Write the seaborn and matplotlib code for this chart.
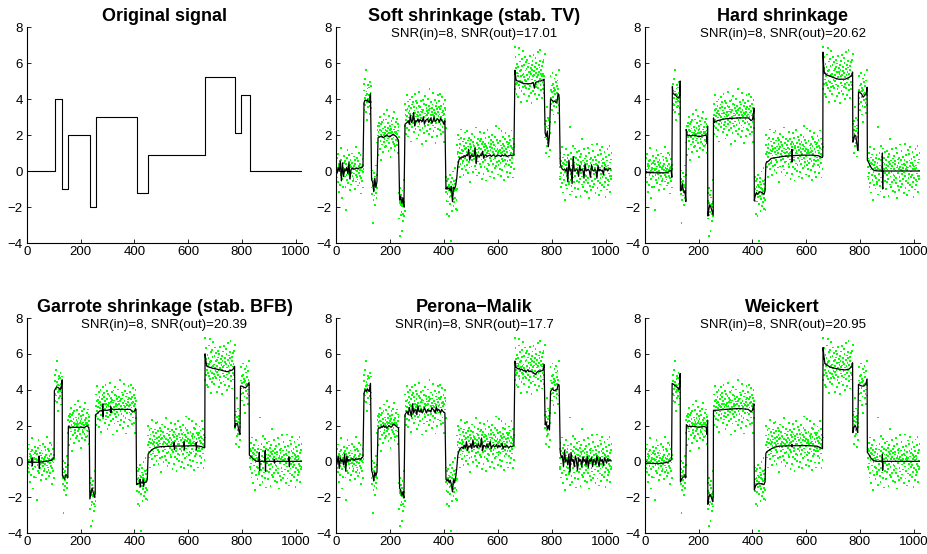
import numpy as np
import matplotlib
matplotlib.use("Agg")
import matplotlib.pyplot as plt
import seaborn as sns

# ---------------- data ----------------
# piecewise-constant original signal: segment starts (sample index) and levels
BREAKS = [0, 103, 132, 153, 234, 256, 408, 450, 663, 775, 796, 829, 1024]
LEVELS = [0, 4, -1, 2, -2, 3, -1.2, 0.9, 5.2, 2.1, 4.2, 0]

# additive noise per sample (in hundredths), estimated from the green dots
NOISE_HUNDREDTHS = [
    22, -48, 5, 71, -13, -36, 94, 8, -61, 27, -115, 41, -3, 17, -78, 55, 30, -24, 128, -9, 63, -44, 2, -152, 38, 19, -87, 11, -29, 46, 82, -6,
    -31, 57, 14, -90, -215, 6, 39, -21, 73, -52, 10, 118, -4, -66, 25, 48, -17, 88, -38, 1, -106, 33, 60, -12, 20, -75, 44, -8, 97, -27, 15, -56,
    9, -43, 81, 26, -14, 62, -99, 37, 4, -23, 135, -58, 18, -34, 70, -2, -47, 12, 56, -81, 29, -11, 102, -65, 40, 7, -28, 91, -125, 16, -39, 3,
    -54, 21, 68, -7, 35, -92, 13, 47, -26, 84, -61, 5, 112, -33, 19, 160, -70, 42, -15, 28, -118, 58, 0, -45, 76, 23, -9, 64, -37, 95, 11, -83,
    32, -16, 74, -49, 8, 55, -27, 103, -190, 38, 17, -62, 90, -5, 44, -36, 24, -88, 69, 12, -21, 131, -50, 6, 79, -42, 30, -110, 51, -3, 18, 66,
    -12, 48, -77, 26, 98, -34, 3, 59, -141, 22, 71, -9, -53, 36, 14, -96, 83, 1, -40, 117, -24, 45, -68, 10, 29, -4, 86, -59, 20, 138, -31, 7,
    41, -19, 65, -88, 13, -46, 104, 27, -6, 52, -124, 35, 9, -71, 80, -23, 17, 58, -37, 2, 93, -14, -49, 126, 31, -83, 15, 44, -62, 8, 72, -28,
    16, -57, 89, 4, -33, 61, -102, 25, 46, -11, 78, -64, 34, -160, 21, 107, -44, 12, 67, -26, -135, 53, 7, 92, -39, 18, -76, 30, 148, -52, 0, -21,
    -48, 73, 11, -95, 38, -17, 121, -62, 5, 44, -29, 86, -108, 24, 59, -3, -71, 32, 97, -41, 15, -136, 50, 8, -22, 69, -57, 113, 1, -34, 82, 19,
    57, -10, -84, 36, 128, -45, 21, -67, 3, 91, -30, 48, -119, 14, 76, -53, 26, 6, -98, 63, -18, 139, -40, 9, 55, -74, 31, -7, 87, -26, 42, -150,
    28, -63, 95, -14, 40, 2, -89, 71, -36, 115, 19, -52, 8, 66, -25, -132, 49, 13, -78, 34, 101, -43, 22, -7, 60, -96, 37, 154, -18, 47, -68, 10,
    -35, 84, -6, 51, -113, 27, 69, -47, 12, 133, -80, 39, -21, 4, 93, -58, 23, -145, 62, 16, -32, 79, -9, 45, -104, 30, 122, -66, 7, 54, -27, 88,
    14, -72, 46, 127, -38, 0, 61, -93, 25, -16, 110, -55, 33, 8, -84, 70, -27, 18, -140, 52, 96, -11, 37, -60, 3, 86, -45, 21, -118, 64, -8, 29,
    -49, 76, 12, -128, 41, -23, 99, -64, 31, 5, -270, 58, -17, 83, -102, 26, 45, -36, 117, -8, -74, 20, 66, -51, 9, 137, -30, 48, -89, 15, 71, -42,
    22, -97, 54, 3, 108, -40, 17, -69, 85, -13, 36, -124, 60, 11, -52, 93, -26, 141, -78, 28, 7, -46, 74, -35, 19, -111, 50, -4, 88, -61, 32, 124,
    -18, 67, -86, 39, 14, -57, 131, -28, 2, 79, -103, 46, 24, -39, 95, -71, 10, 58, -149, 33, 81, -12, 42, -65, 116, 6, -31, 72, -94, 20, 53, -8,
    47, -24, 101, -60, 13, 35, -82, 152, -42, 8, 65, -115, 29, -5, 90, -37, 56, 17, -99, 40, -14, 77, -53, 125, 4, -68, 31, 86, -26, 11, -135, 58,
    -39, 18, 73, -106, 44, -2, 119, -67, 25, 60, -31, 92, -15, -143, 51, 36, -77, 9, 137, -48, 21, -88, 64, 7, -56, 100, -20, 43, -121, 27, 83, -33,
    62, -9, -94, 38, 112, -50, 15, 71, -26, 4, -128, 55, 30, -72, 97, -18, 46, 160, -63, 23, -41, 84, -7, 34, -109, 67, 12, -55, 146, -36, 19, -81,
    28, 75, -44, 9, -117, 52, 133, -23, 39, -86, 14, 61, -35, 98, -140, 21, 47, -62, 6, 89, -27, 119, -51, 33, -8, -97, 70, 16, -33, 57, -124, 42,
    -15, 66, 104, -58, 24, -31, 82, -99, 11, 48, -70, 135, -19, 37, -46, 5, 91, -126, 29, 59, -3, -81, 43, 170, -64, 17, 114, -38, 52, -12, -92, 26,
    73, -29, 10, -107, 56, 22, -44, 127, 165, -61, 34, -18, 88, -137, 41, 7, -75, 100, -25, 63, 12, -53, 146, -34, 20, -90, 69, 3, -47, 115, -16, 38,
    -57, 84, -21, 45, -131, 14, 96, -39, 60, -8, 28, -103, 77, -66, 1, 118, -48, 32, 52, -85, 19, -142, 70, -12, 41, 93, -30, 6, -74, 124, -45, 15,
    36, -94, 58, -17, 109, -52, 24, 81, -35, 4, -121, 47, 139, -60, 13, -28, 71, -99, 30, 55, -10, 92, 150, -43, 18, -71, 39, -114, 64, 9, -25, 86,
    -63, 21, 97, -40, 7, -87, 130, -24, 49, 16, -112, 68, -5, 37, -70, 145, -33, 11, 85, -56, 26, -129, 43, 74, -19, 2, -92, 60, 107, -46, 31, -14,
    55, -80, 18, 126, -37, 62, -9, -106, 41, 23, -58, 94, -148, 30, 7, 76, -27, 113, -65, 12, 50, -42, 83, -19, -100, 35, 142, -53, 4, 69, -31, 20,
    -44, 101, -12, 57, -90, 28, 133, -66, 8, 46, -119, 75, -23, 39, 92, -51, 14, -160, 63, -5, 33, -78, 120, -30, 51, 17, -97, 70, -38, 6, 88, -59,
    24, -71, 43, -131, 10, 245, -48, 66, -15, 98, -83, 31, 5, -114, 59, 140, -36, 21, -62, 80, -2, 47, -95, 125, -27, 13, 71, -146, 38, -10, 104, -55,
    17, 62, -98, 35, -20, 111, -59, 8, 76, -44, 29, -137, 52, 93, -13, 40, -75, 180, -31, 14, -88, 58, -4, 121, -63, 26, 47, -109, 69, -22, 11, -50,
    85, -26, 38, -115, 54, 3, -67, 128, -40, 19, 99, -152, 30, -9, 64, -84, 45, 13, -104, 72, -35, 147, -57, 22, 6, -91, 60, 110, -18, 36, -73, 2,
    -46, 79, 15, -120, 41, -8, 63, 150, -29, 33, -96, 11, 87, -54, 24, -135, 50, 7, 116, -68, 19, -40, 95, -15, -108, 58, 27, -77, 134, -33, 46, -3,
    68, -21, -89, 44, 106, -61, 12, 35, -143, 80, -37, 25, 58, -103, 9, 122, -49, 31, -76, 15, 90, -14, -58, 138, -26, 47, -117, 64, 3, -45, 99, -30,
]

# jagged results, read every 4th sample (x = 0, 4, ..., 1020)
SOFT_Y = [
    0.1, -0.1, 0.2, 0.0, 0.55, -0.55, 0.45, -0.3, 0.1, 0.0, 0.2, -0.15, 0.45, -0.45, 0.1, 0.15, 0.12, 0.1, 0.15, 0.15, 0.15, 0.15, 0.18, 0.2, 0.2, 0.25,
    3.8, 3.95, 3.9, 3.95, 3.85, 3.8, 4.3,
    -0.5, -0.6, -1.15, -0.4, -0.9, -0.6,
    1.85, 1.9, 1.9, 1.95, 1.9, 1.85, 1.9, 1.95, 2.0, 1.95, 1.9, 1.9, 1.95, 2.0, 2.05, 2.0, 1.95, 1.9, 1.8, 1.7,
    -1.6, -1.4, -1.8, -1.5, -2.0,
    2.6, 2.65, 2.7, 2.8, 2.6, 3.1, 2.7, 2.8, 3.25, 2.5, 2.8, 2.75, 2.9, 2.7, 2.85, 2.8, 2.75, 3.0, 2.6, 2.8,
    2.85, 2.9, 2.7, 2.8, 2.95, 2.65, 2.8, 3.0, 2.75, 2.8, 2.9, 2.85, 2.7, 2.95, 2.8, 2.75, 2.6, 2.8,
    -1.0, -0.9, -1.0, -0.95, -1.1, -0.85, -1.7, -0.9, -1.0, -0.8, -0.4,
    0.3, 0.6, 0.75, 0.7, 0.8, 0.75, 0.85, 0.8, 0.9, 0.85, 1.2, 0.6, 0.85, 0.9, 0.8, 0.85, 1.3, 0.4, 0.9, 0.85,
    0.8, 0.9, 0.85, 1.1, 0.7, 0.85, 0.9, 0.8, 0.85, 0.85, 0.9, 0.8, 0.85, 0.9, 0.85, 0.8, 0.85, 0.9, 0.85, 0.85,
    0.8, 0.9, 0.85, 0.85, 0.9, 0.85, 0.8, 0.85, 0.85, 0.9, 0.85, 0.85, 0.9,
    5.6, 5.05, 5.0, 5.0, 4.95, 4.95, 4.9, 4.9, 4.85, 4.85, 4.85, 4.85, 4.85, 4.85, 4.85, 4.85, 4.9, 4.9, 4.6, 4.9,
    4.95, 4.95, 5.0, 5.0, 5.0, 5.05, 5.05, 5.1,
    2.1, 1.9, 2.2, 1.35, 2.0,
    4.0, 3.95, 3.9, 3.85, 3.9, 3.8, 3.85, 4.3, 4.1,
    0.4, 0.2, 0.1, 0.05, 0.1, 0.0, 0.15, -0.6, 0.6, 0.0, 0.1, -0.7, 0.8, 0.05, 0.0, 0.1, 0.05, -0.3, 0.3, 0.0,
    0.1, 0.05, -0.4, 0.4, 0.0, 0.05, 0.1, 0.0, -0.35, 0.35, 0.05, 0.0, 0.1, 0.05, -0.4, 0.3, 0.0, 0.1, 0.0, 0.05,
    -0.2, 0.2, 0.05, 0.1, 0.0, 0.1, 0.15, 0.1,
]
PM_Y = [
    0.1, -0.1, 0.3, -0.4, 0.2, 0.0, 0.1, -0.2, 0.4, -0.55, 0.3, 0.0, 0.1, 0.05, 0.1, 0.15, 0.1, 0.05, 0.15, 0.1, 0.1, 0.15, 0.15, 0.1, 0.2, 0.25,
    3.8, 4.0, 3.9, 4.05, 3.95, 3.9, 4.35,
    -0.5, -0.7, -1.1, -0.6, -0.8, -0.6,
    1.8, 1.9, 1.85, 1.95, 1.9, 2.0, 1.9, 1.95, 1.85, 1.9, 2.0, 1.95, 1.9, 1.95, 2.1, 2.05, 2.0, 1.95, 1.9, 1.85,
    -1.5, -1.6, -1.9, -1.7, -2.05,
    2.6, 2.7, 2.8, 2.6, 3.0, 2.75, 2.5, 3.2, 2.7, 2.85, 2.9, 2.6, 3.1, 2.8, 2.75, 2.9, 2.7, 2.8, 3.0, 2.85,
    2.7, 2.9, 2.8, 2.85, 2.75, 3.0, 2.9, 2.85, 2.7, 3.05, 2.8, 2.9, 2.85, 2.7, 2.9, 2.8, 2.75, 2.7,
    -1.0, -1.1, -1.0, -1.2, -1.05, -1.3, -1.7, -1.0, -1.2, -0.9, -0.4,
    0.35, 0.55, 0.7, 0.75, 0.8, 0.7, 0.9, 0.75, 1.1, 0.6, 0.85, 0.8, 0.95, 0.7, 1.2, 0.8, 0.85, 0.9, 0.75, 1.0,
    0.85, 0.8, 1.3, 0.6, 0.9, 0.85, 0.8, 0.95, 0.75, 0.9, 1.1, 0.7, 0.85, 0.9, 0.8, 0.85, 0.95, 0.75, 0.9, 0.8,
    0.85, 1.0, 0.7, 0.85, 0.8, 0.9, 0.85, 0.75, 0.8, 0.85, 0.8, 0.85, 0.9,
    5.6, 5.25, 5.2, 5.15, 5.2, 5.1, 5.15, 5.1, 5.05, 5.1, 5.0, 5.05, 5.1, 5.0, 5.05, 5.0, 5.0, 4.95, 4.9, 4.85,
    4.95, 5.0, 5.05, 5.0, 5.05, 5.05, 5.1, 5.4,
    2.05, 2.2, 1.8, 2.0, 1.75,
    3.9, 4.0, 4.05, 3.95, 3.95, 4.0, 4.0, 4.3, 4.2,
    0.5, 0.2, 0.3, -0.3, 0.6, 0.0, 0.1, -0.2, 0.4, -0.6, 0.5, 0.0, 0.1, -0.3, 0.3, 0.05, -0.5, 0.2, 0.0, 0.1,
    -0.3, 0.25, 0.0, 0.1, -0.2, 0.3, -0.35, 0.1, 0.0, 0.2, -0.3, 0.1, 0.05, -0.2, 0.3, 0.0, -0.3, 0.2, 0.0, 0.1,
    -0.25, 0.2, 0.05, -0.1, 0.15, 0.0, 0.1, 0.05,
]

# smooth results, vertices (x, y)
HARD = [
    (0, -0.08), (40, -0.1), (80, -0.1), (92, 0.0), (97, 0.05), (100, -0.35), (102, 4.7), (104, 4.3), (112, 4.25),
    (120, 4.1), (126, 4.05), (129, 4.2), (131, 5.0), (132, -1.1), (136, -1.05), (139, -0.7), (142, -1.0), (145, -1.2),
    (149, -1.1), (152, -1.7), (154, 2.3), (157, 2.0), (170, 1.95), (185, 2.0), (200, 1.9), (215, 1.95), (226, 2.0),
    (230, 1.9), (232, 1.5), (233, 2.5), (234, -2.5), (238, -2.1), (241, -1.9), (245, -2.0), (249, -2.2), (254, -2.45),
    (255, 2.95), (258, 2.7), (270, 2.8), (300, 2.9), (350, 2.95), (385, 2.95), (395, 2.8), (400, 2.85), (404, 3.2),
    (406, 3.5), (407, -1.65), (410, -1.4), (415, -1.2), (420, -1.3), (428, -1.15), (436, -1.2), (443, -1.3),
    (447, -1.1), (450, 0.4), (453, 0.5), (460, 0.55), (470, 0.7), (490, 0.75), (520, 0.82), (546, 0.85), (547, 1.2),
    (548, 0.5), (549, 0.85), (580, 0.88), (620, 0.88), (645, 0.85), (655, 0.78), (660, 0.75), (662, 0.8), (663, 6.6),
    (665, 5.9), (668, 5.45), (675, 5.35), (700, 5.2), (720, 5.1), (745, 5.1), (760, 5.2), (770, 5.3), (773, 5.5),
    (774, 1.6), (777, 1.75), (781, 2.0), (785, 1.95), (789, 1.5), (792, 1.15), (794, 1.3), (795, 4.4), (800, 4.35),
    (806, 4.3), (812, 4.1), (818, 4.2), (824, 4.3), (827, 4.65), (828, 0.6), (832, 0.5), (838, 0.3), (846, 0.1),
    (855, 0.02), (870, 0.0), (883, 0.0), (884, 1.0), (885, -1.0), (886, 0.0), (1023, 0.0),
]
GARROTE = [
    (0, -0.05), (15, -0.05), (19, 0.2), (20, -0.25), (21, -0.05), (44, -0.05), (45, 0.3), (46, -0.4), (47, -0.05),
    (70, 0.0), (90, 0.05), (98, 0.15), (101, 0.2), (102, 3.95), (106, 4.05), (110, 4.15), (118, 4.1), (124, 4.0),
    (128, 4.2), (131, 4.55), (132, -0.8), (136, -0.9), (140, -1.0), (145, -0.75), (149, -0.8), (152, -0.9),
    (154, 1.95), (160, 1.9), (190, 1.9), (215, 1.9), (225, 2.0), (230, 1.85), (232, 1.7), (234, -2.1), (238, -1.8),
    (242, -1.5), (246, -1.7), (251, -2.0), (254, -1.8), (255, 2.6), (260, 2.65), (270, 2.8), (281, 2.85), (282, 3.2),
    (283, 2.5), (284, 2.85), (300, 2.85), (311, 2.9), (312, 3.05), (313, 2.7), (314, 2.9), (350, 2.9), (385, 2.9),
    (393, 2.75), (400, 2.8), (404, 2.95), (406, 2.85), (408, -1.3), (412, -1.25), (420, -1.2), (421, -1.0),
    (422, -1.4), (423, -1.2), (432, -1.2), (433, -1.0), (434, -1.4), (435, -1.2), (445, -1.15), (448, -1.0),
    (451, 0.4), (456, 0.5), (465, 0.65), (480, 0.78), (500, 0.82), (547, 0.85), (548, 1.05), (549, 0.65), (550, 0.85),
    (584, 0.86), (585, 1.1), (586, 0.65), (587, 0.86), (629, 0.87), (630, 1.05), (631, 0.65), (632, 0.87), (650, 0.82),
    (660, 0.75), (662, 0.78), (663, 6.0), (666, 5.6), (670, 5.3), (690, 5.2), (720, 5.1), (745, 5.0), (755, 5.05),
    (765, 5.1), (770, 5.2), (773, 5.3), (774, 1.9), (778, 2.1), (784, 2.1), (789, 1.7), (793, 1.5), (795, 4.2),
    (800, 4.2), (806, 4.15), (813, 4.1), (820, 4.2), (827, 4.4), (828, 0.35), (835, 0.25), (845, 0.1), (855, 0.0),
    (864, 0.0), (865, 0.5), (866, -0.5), (867, 0.0), (886, 0.0), (887, 0.6), (888, -0.55), (889, 0.0), (920, 0.0),
    (921, 0.1), (922, -0.1), (923, 0.0), (975, 0.0), (976, 0.25), (977, -0.3), (978, 0.0), (1023, 0.0),
]
WEICKERT = [
    (0, -0.1), (30, -0.12), (60, -0.12), (85, -0.05), (95, 0.05), (99, 0.1), (101, 4.35), (106, 4.3), (115, 4.2),
    (122, 4.1), (126, 4.0), (129, 4.2), (131, 4.9), (132, -1.15), (136, -1.0), (140, -0.9), (146, -0.85), (150, -0.75),
    (152, -0.9), (154, 2.05), (160, 1.95), (180, 1.95), (200, 1.9), (220, 1.95), (228, 1.9), (231, 1.5), (233, 2.3),
    (234, -2.4), (238, -2.0), (242, -1.85), (247, -2.0), (252, -2.25), (254, -2.0), (255, 2.85), (265, 2.85),
    (300, 2.9), (350, 2.95), (385, 2.9), (395, 2.75), (400, 2.85), (404, 3.1), (406, 3.2), (407, -1.6), (412, -1.35),
    (420, -1.25), (435, -1.25), (443, -1.3), (447, -1.15), (450, 0.45), (455, 0.55), (465, 0.65), (480, 0.78),
    (500, 0.85), (546, 0.87), (547, 0.95), (548, 0.8), (549, 0.87), (600, 0.88), (640, 0.85), (655, 0.75), (661, 0.7),
    (663, 6.35), (666, 5.9), (670, 5.45), (690, 5.25), (720, 5.15), (745, 5.1), (760, 5.15), (770, 5.3), (773, 5.5),
    (774, 1.6), (778, 1.9), (783, 2.0), (788, 1.8), (792, 1.6), (795, 4.3), (800, 4.25), (808, 4.2), (815, 4.2),
    (822, 4.3), (827, 4.6), (828, 0.5), (833, 0.4), (840, 0.2), (850, 0.05), (860, 0.0), (883, 0.0), (884, 0.4),
    (885, -0.5), (886, 0.0), (1023, 0.0),
]

TITLES = ["Original signal", "Soft shrinkage (stab. TV)", "Hard shrinkage",
          "Garrote shrinkage (stab. BFB)", "Perona\u2212Malik", "Weickert"]
SNR_IN = 8
SNR_OUT = [None, "17.01", "20.62", "20.39", "17.7", "20.95"]
X_TICKS = [0, 200, 400, 600, 800, 1000]
Y_TICKS = [-4, -2, 0, 2, 4, 6, 8]

# ---------------- style ----------------
sns.set_theme(style="ticks")
plt.rcParams.update({
    "font.family": ["Liberation Sans", "DejaVu Sans"],
    "text.color": "black", "axes.labelcolor": "black", "axes.titlecolor": "black",
    "xtick.direction": "in", "ytick.direction": "in",
    "xtick.major.size": 3, "ytick.major.size": 3,
    "xtick.major.width": 0.6, "ytick.major.width": 0.6,
    "xtick.major.pad": 2.5, "ytick.major.pad": 3,
    "xtick.labelsize": 9.5, "ytick.labelsize": 9.5,
    "xtick.color": "black", "ytick.color": "black",
    "xtick.labelcolor": "black", "ytick.labelcolor": "black",
    "axes.edgecolor": "black", "axes.linewidth": 0.8,
})

fig = plt.figure(figsize=(9.28, 5.54), dpi=100)
W, H = 928.0, 554.0
cols = [(27, 302), (336, 612), (645, 920)]
rows = [(27, 243), (318, 533)]

samples = np.arange(len(NOISE_HUNDREDTHS))
clean = np.repeat(LEVELS, np.diff(BREAKS))
noisy = clean + np.array(NOISE_HUNDREDTHS) / 100.0
grid4 = np.arange(0, 1024, 4)

results = [None,
           (grid4, np.array(SOFT_Y)),
           tuple(np.array(v) for v in zip(*HARD)),
           tuple(np.array(v) for v in zip(*GARROTE)),
           (grid4, np.array(PM_Y)),
           tuple(np.array(v) for v in zip(*WEICKERT))]

for k in range(6):
    r, c = divmod(k, 3)
    x0, x1 = cols[c]
    top, bot = rows[r]
    ax = fig.add_axes([x0 / W, 1 - bot / H, (x1 - x0) / W, (bot - top) / H])
    if k == 0:
        sns.lineplot(x=BREAKS, y=LEVELS + [LEVELS[-1]], drawstyle="steps-post",
                     estimator=None, sort=False, color="black", linewidth=0.8, ax=ax)
    else:
        sns.scatterplot(x=samples, y=noisy, marker="s", s=1.7, color="#00ff00",
                        linewidth=0, edgecolor="none", antialiased=False, ax=ax, zorder=2)
        rx, ry = results[k]
        sns.lineplot(x=rx, y=ry, estimator=None, sort=False, color="black",
                     linewidth=0.9, ax=ax, zorder=3)
        ax.text(0.5, 1 - 7 / (bot - top), f"SNR(in)={SNR_IN}, SNR(out)={SNR_OUT[k]}",
                transform=ax.transAxes, ha="center", va="center", fontsize=9.5)
    ax.set_title(TITLES[k], fontweight="bold", fontsize=13, pad=4.5)
    ax.set_xlim(0, 1024)
    ax.set_ylim(-4, 8)
    ax.set_xticks(X_TICKS)
    ax.set_yticks(Y_TICKS)
    ax.set_xlabel("")
    ax.set_ylabel("")
    sns.despine(ax=ax)

fig.savefig("out.png", dpi=100)
